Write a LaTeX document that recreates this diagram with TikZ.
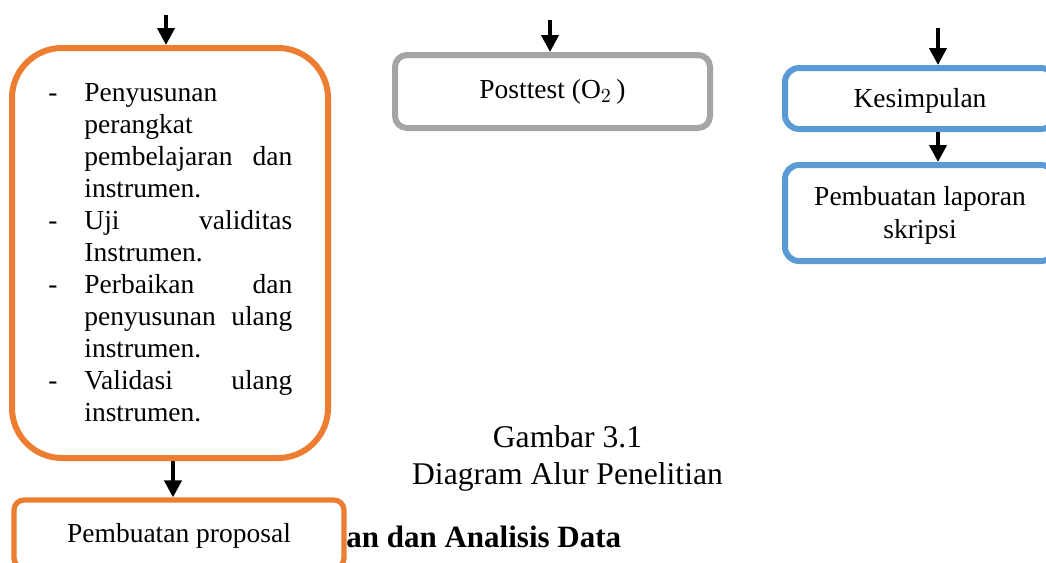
\documentclass[tikz,border=0pt]{standalone}
\usepackage{fontspec}
\setmainfont{Liberation Serif}
\usetikzlibrary{arrows.meta}
\definecolor{orng}{HTML}{ED7D31}
\definecolor{blu}{HTML}{5B9BD5}
\definecolor{gry}{HTML}{A5A5A5}
\begin{document}
\begin{tikzpicture}[x=0.5pt,y=-0.5pt,
  every node/.style={inner sep=0pt, font=\fontsize{13.75}{16}\selectfont},
  bigbox/.style={draw=orng, line width=3pt, rounded corners=25pt, fill=white},
  orbox/.style={draw=orng, line width=2.6pt, rounded corners=5pt, fill=white},
  grbox/.style={draw=gry, line width=3pt, rounded corners=6pt, fill=white},
  blbox/.style={draw=blu, line width=3pt, rounded corners=7pt, fill=white},
  captxt/.style={anchor=base, font=\fontsize{15.8}{17.5}\selectfont},
  arr/.style={line width=2pt, -{Triangle[width=8.5pt,length=8.5pt]}}
]
\useasboundingbox (0,0) rectangle (1046,563);
\clip (0,0) rectangle (1046,563);
\fill[white] (0,0) rectangle (1046,563);

% left column
\node[bigbox, minimum width=158pt, minimum height=205pt] (prep) at (170,253) {};
\node[anchor=base west] (preptext) at (48,101) {\begin{tabular}[t]{@{}p{18pt}@{}p{104pt}@{}}
- & Penyusunan\\
  & perangkat\\
  & \makebox[104pt][s]{pembelajaran dan}\\
  & instrumen.\\
- & \makebox[104pt][s]{Uji validitas}\\
  & Instrumen.\\
- & \makebox[104pt][s]{Perbaikan dan}\\
  & \makebox[104pt][s]{penyusunan ulang}\\
  & instrumen.\\
- & \makebox[104pt][s]{Validasi ulang}\\
  & instrumen.
\end{tabular}};
\coordinate (s1) at (166,15);
\draw[arr] (s1) -- (s1 |- prep.north);

\node[anchor=base west, font=\fontsize{15.5}{18}\selectfont\bfseries] (head) at (346,547) {an dan Analisis Data};
\node[orbox, minimum width=165pt, minimum height=34pt, text height=11.5pt, text depth=3pt] (prop) at (179,534) {Pembuatan proposal};
\draw[arr] ([xshift=1.5pt]prep.south) -- ([xshift=1.5pt]prep.south |- prop.north);

% middle column
\node[grbox, minimum width=157.5pt, minimum height=36.5pt] (post) at (552.5,91.5) {Posttest ($\mathrm{O}_2$\,)};
\coordinate (s2) at (550,20);
\draw[arr] (s2) -- (s2 |- post.north);

\node[captxt] (cap1) at (567.5,447) {Gambar 3.1};
\node[captxt] (cap2) at (567.5,484) {Diagram Alur Penelitian};

% right column
\node[blbox, minimum width=135pt, minimum height=30.5pt, text height=12.4pt, text depth=3pt] (kes) at (920,98.5) {Kesimpulan};
\node[blbox, minimum width=135pt, minimum height=48pt, align=center, font=\fontsize{13.75}{16.5}\selectfont, yshift=0pt] (lap) at (920,213) {\rule{0pt}{11.5pt}Pembuatan laporan\\skripsi};
\coordinate (s3) at (938,28);
\draw[arr] (s3) -- (s3 |- kes.north);
\draw[arr] (s3 |- kes.south) -- (s3 |- lap.north);
\end{tikzpicture}
\end{document}
